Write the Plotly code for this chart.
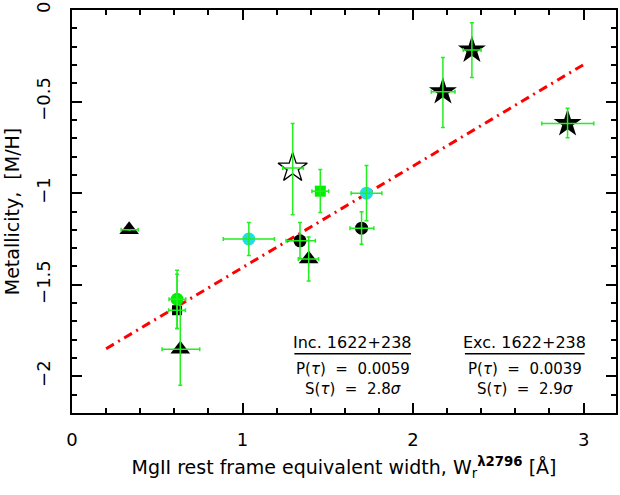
import plotly.graph_objects as go

# Filled stars
star_x = [2.175, 2.345, 2.906]
star_y = [-0.446, -0.219, -0.620]
star_xm = [0.068, 0.051, 0.151]
star_xp = [0.071, 0.054, 0.154]
star_ym = [0.195, 0.149, 0.078]
star_yp = [0.187, 0.150, 0.083]

# Open star (1622+238)
ostar_x = [1.294]
ostar_y = [-0.862]
ostar_xm = [0.058]
ostar_xp = [0.063]
ostar_ym = [0.256]
ostar_yp = [0.243]

# Green square
gsq_x = [1.456]
gsq_y = [-0.989]
gsq_xm = [0.049]
gsq_xp = [0.049]
gsq_ym = [0.117]
gsq_yp = [0.118]

# Cyan circles
cyan_x = [1.037, 1.727]
cyan_y = [-1.250, -1.000]
cyan_xm = [0.150, 0.090]
cyan_xp = [0.150, 0.090]
cyan_ym = [0.090, 0.151]
cyan_yp = [0.090, 0.151]

# Black circles
bcir_x = [1.337, 1.698]
bcir_y = [-1.260, -1.191]
bcir_xm = [0.082, 0.068]
bcir_xp = [0.090, 0.072]
bcir_ym = [0.097, 0.088]
bcir_yp = [0.100, 0.089]

# Black triangles
tri_x = [0.335, 1.388, 0.635]
tri_y = [-1.200, -1.359, -1.852]
tri_xm = [0.047, 0.061, 0.107]
tri_xp = [0.053, 0.058, 0.114]
tri_ym = [0.0, 0.120, 0.197]
tri_yp = [0.0, 0.120, 0.240]

# Green circle
gcir_x = [0.616]
gcir_y = [-1.579]
gcir_xm = [0.047]
gcir_xp = [0.051]
gcir_ym = [0.160]
gcir_yp = [0.158]

# Black square
bsq_x = [0.616]
bsq_y = [-1.639]
bsq_xm = [0.049]
bsq_xp = [0.049]
bsq_ym = [0.100]
bsq_yp = [0.196]

# Linear fit
fit_x = [0.20, 3.00]
fit_slope = 0.554
fit_intercept = -1.960

# Kendall tau statistics
stat_titles = ["Inc. 1622+238", "Exc. 1622+238"]
stat_p = ["0.0059", "0.0039"]
stat_s = ["2.8", "2.9"]
stat_xc = [1.646, 2.655]
stat_xl = [1.304, 2.304]
stat_xr = [1.988, 3.006]

y_ticks = [-2, -1.5, -1, -0.5, 0]
y_ticktext = ["\u22122", "\u22121.5", "\u22121", "\u22120.5", "0"]
x_ticks = [0, 1, 2, 3]
x_ticktext = ["0", "1", "2", "3"]

ERR = "#22ee22"
FONT = "DejaVu Sans"

fig = go.Figure()

# best-fit line
fit_y = [fit_intercept + fit_slope * v for v in fit_x]
fig.add_trace(go.Scatter(x=fit_x, y=fit_y, mode="lines",
                         line=dict(color="#ff0000", width=3, dash="9px,5px,2px,5px"),
                         hoverinfo="skip"))

groups = [
    (star_x, star_y, star_xm, star_xp, star_ym, star_yp,
     dict(symbol="star", size=21, color="black", line=dict(width=0))),
    (ostar_x, ostar_y, ostar_xm, ostar_xp, ostar_ym, ostar_yp,
     dict(symbol="star", size=22, color="white", line=dict(width=1.3, color="black"))),
    (gsq_x, gsq_y, gsq_xm, gsq_xp, gsq_ym, gsq_yp,
     dict(symbol="square", size=11, color="#00ee00", line=dict(width=0))),
    (cyan_x, cyan_y, cyan_xm, cyan_xp, cyan_ym, cyan_yp,
     dict(symbol="circle", size=13, color="#22dde8", line=dict(width=0))),
    (bcir_x, bcir_y, bcir_xm, bcir_xp, bcir_ym, bcir_yp,
     dict(symbol="circle", size=13, color="black", line=dict(width=0))),
    (tri_x, tri_y, tri_xm, tri_xp, tri_ym, tri_yp,
     dict(symbol="triangle-up", size=17, color="black", line=dict(width=0))),
    (gcir_x, gcir_y, gcir_xm, gcir_xp, gcir_ym, gcir_yp,
     dict(symbol="circle", size=13, color="#00ee00", line=dict(width=0))),
    (bsq_x, bsq_y, bsq_xm, bsq_xp, bsq_ym, bsq_yp,
     dict(symbol="square", size=10, color="black", line=dict(width=0))),
]

# markers first
for gx, gy, xm, xp, ym, yp, mk in groups:
    fig.add_trace(go.Scatter(x=gx, y=gy, mode="markers", marker=mk))

# error bars drawn over the symbols
for gx, gy, xm, xp, ym, yp, mk in groups:
    fig.add_trace(go.Scatter(
        x=gx, y=gy, mode="markers", marker=dict(size=1, opacity=0),
        error_x=dict(type="data", symmetric=False, array=xp, arrayminus=xm,
                     color=ERR, thickness=1.5, width=2),
        error_y=dict(type="data", symmetric=False, array=yp, arrayminus=ym,
                     color=ERR, thickness=1.5, width=2),
    ))

# statistics blocks
ys_title = -1.814
ys_line = -1.877
ys_p = -1.962
ys_s = -2.069
for t, p, s, xc, xl, xr in zip(stat_titles, stat_p, stat_s, stat_xc, stat_xl, stat_xr):
    fig.add_annotation(x=xc, y=ys_title, text=t, showarrow=False,
                       xanchor="center", yanchor="middle", font=dict(size=16))
    fig.add_shape(type="line", x0=xl, x1=xr, y0=ys_line, y1=ys_line,
                  line=dict(color="black", width=1.5))
    fig.add_annotation(x=xc, y=ys_p, text="P(<i>\u03c4</i>)  =  " + p, showarrow=False,
                       xanchor="center", yanchor="middle", font=dict(size=15),
                       borderpad=0)
    fig.add_annotation(x=xc, y=ys_s, text="S(<i>\u03c4</i>)  =  " + s + "<i>\u03c3</i>",
                       showarrow=False, xanchor="center", yanchor="middle",
                       font=dict(size=15), borderpad=0)

axis_common = dict(
    showgrid=False, zeroline=False, showline=True, linecolor="black", linewidth=2,
    mirror="ticks", ticks="inside", ticklen=10, tickwidth=2, tickcolor="black",
    tickfont=dict(size=18),
)

fig.update_xaxes(
    range=[0, 3.19], tickvals=x_ticks, ticktext=x_ticktext,
    minor=dict(dtick=0.2, tick0=0, ticks="inside", ticklen=5, tickwidth=1.5, tickcolor="black"),
    title=dict(text="MgII rest frame equivalent width, W<sub>r</sub><sup><b>\u03bb2796</b></sup> [\u00c5]",
               standoff=12, font=dict(size=19)),
    ticklabelstandoff=9,
    **axis_common,
)
fig.update_yaxes(
    range=[-2.2, 0], tickvals=y_ticks, ticktext=y_ticktext, tickangle=-90,
    minor=dict(dtick=0.1, tick0=0, ticks="inside", ticklen=5, tickwidth=1.5, tickcolor="black"),
    title=dict(text="Metallicity,  [M/H]", standoff=8, font=dict(size=19)),
    ticklabelstandoff=13,
    **axis_common,
)

fig.update_layout(
    width=620, height=495,
    margin=dict(l=72, r=2, t=10, b=82),
    paper_bgcolor="white", plot_bgcolor="white",
    showlegend=False,
    font=dict(family=FONT, size=16, color="black"),
)

fig.write_html("out.html")
